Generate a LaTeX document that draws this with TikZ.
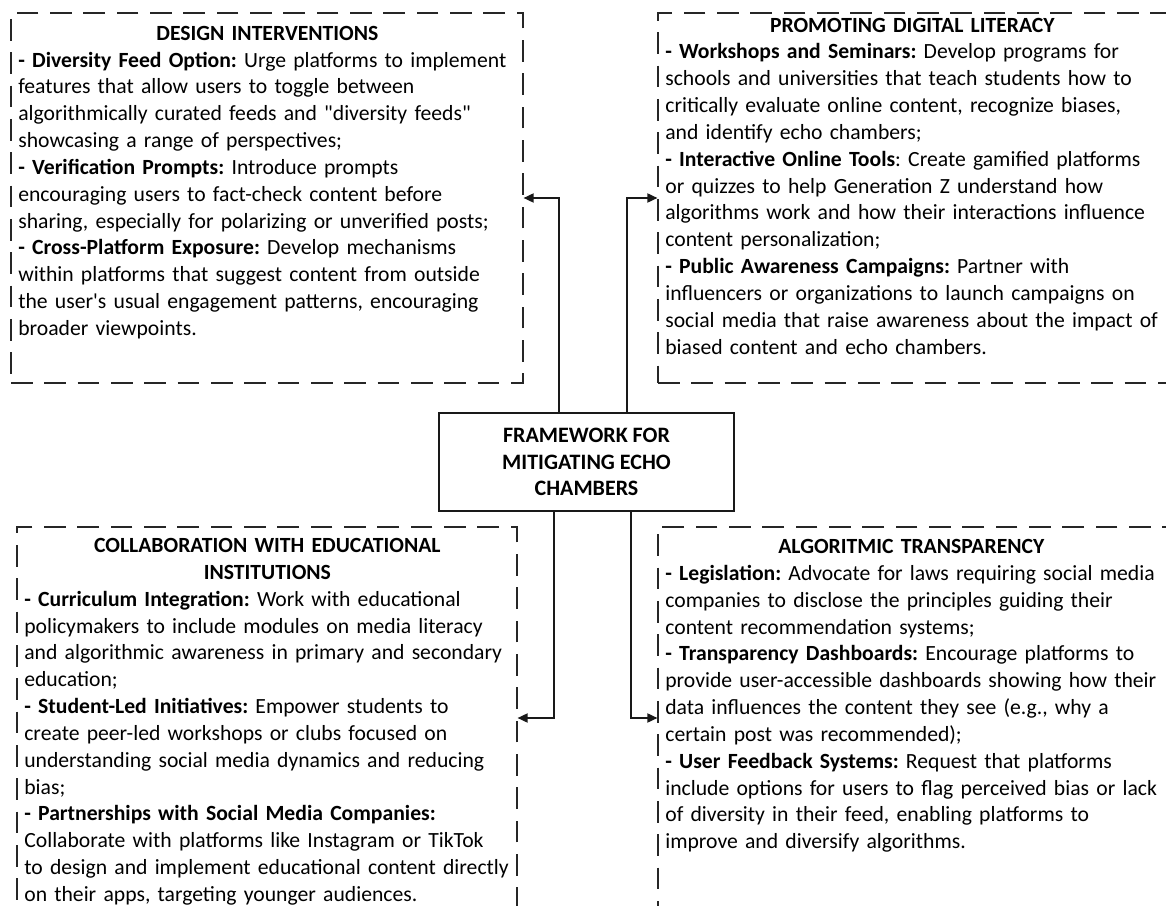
\documentclass[tikz,border=0pt]{standalone}
\usepackage{fontspec}
\setmainfont{Carlito}
\usetikzlibrary{arrows.meta}
\frenchspacing
\newcommand\boxtitle[2]{\makebox[#1][c]{\bfseries\strut #2}}
\tikzset{
  dbox/.style={draw=black!85, line width=0.75pt, dash pattern=on 13pt off 7pt, rectangle, inner sep=0pt},
  cbox/.style={draw=black!90, line width=0.8pt, rectangle, inner sep=0pt, align=center,
               font=\fontsize{13.2}{15.9}\selectfont\bfseries},
  txt/.style={anchor=north west, inner sep=0pt, align=left, text=black,
              font=\fontsize{13}{16.1}\selectfont\frenchspacing},
  conn/.style={draw=black!90, line width=0.8pt, -{Triangle[length=6pt,width=5.5pt]}},
}
\begin{document}
\begin{tikzpicture}[x=0.6pt,y=-0.6pt]
\useasboundingbox (0,0) rectangle (1166,906);
\clip (0,0) rectangle (1166,906);

% frames
\node[dbox, minimum width=307.2pt, minimum height=222pt] (tl) at (267,198) {};
\node[dbox, minimum width=313.2pt, minimum height=222pt] (tr) at (919,198) {};
\node[dbox, minimum width=300pt, minimum height=229.2pt] (bl) at (267,718) {};
\node[dbox, minimum width=313.2pt, minimum height=229.2pt] (br) at (919,718) {};

% centre
\node[cbox, minimum width=177pt, minimum height=58.8pt] (c) at (586.5,462)
  {FRAMEWORK FOR\\MITIGATING ECHO\\CHAMBERS};

% texts
\node[txt, text width=340pt] (tltext) at (18,21.2) {%
\boxtitle{298.8pt}{DESIGN INTERVENTIONS}\\
\textbf{- Diversity Feed Option:} Urge platforms to implement\\
features that allow users to toggle between\\
algorithmically curated feeds and \textquotedbl diversity feeds\textquotedbl\\
showcasing a range of perspectives;\\
\textbf{- Verification Prompts:} Introduce prompts\\
encouraging users to fact-check content before\\
sharing, especially for polarizing or unverified posts;\\
\textbf{- Cross-Platform Exposure:} Develop mechanisms\\
within platforms that suggest content from outside\\
the user\textquotesingle s usual engagement patterns, encouraging\\
broader viewpoints.};

\node[txt, text width=340pt] (trtext) at (665,12.9) {%
\boxtitle{296.4pt}{PROMOTING DIGITAL LITERACY}\\
\textbf{- Workshops and Seminars:} Develop programs for\\
schools and universities that teach students how to\\
critically evaluate online content, recognize biases,\\
and identify echo chambers;\\
\textbf{- Interactive Online Tools}: Create gamified platforms\\
or quizzes to help Generation Z understand how\\
algorithms work and how their interactions influence\\
content personalization;\\
\textbf{- Public Awareness Campaigns:} Partner with\\
influencers or organizations to launch campaigns on\\
social media that raise awareness about the impact of\\
biased content and echo chambers.};

\node[txt, text width=340pt] (bltext) at (24,533.5) {%
\boxtitle{291.6pt}{COLLABORATION WITH EDUCATIONAL}\\
\boxtitle{291.6pt}{INSTITUTIONS}\\
\textbf{- Curriculum Integration:} Work with educational\\
policymakers to include modules on media literacy\\
and algorithmic awareness in primary and secondary\\
education;\\
\textbf{- Student-Led Initiatives:} Empower students to\\
create peer-led workshops or clubs focused on\\
understanding social media dynamics and reducing\\
bias;\\
\textbf{- Partnerships with Social Media Companies:}\\
Collaborate with platforms like Instagram or TikTok\\
to design and implement educational content directly\\
on their apps, targeting younger audiences.};

\node[txt, text width=340pt] (brtext) at (665,534.5) {%
\boxtitle{295.2pt}{ALGORITMIC TRANSPARENCY}\\
\textbf{- Legislation:} Advocate for laws requiring social media\\
companies to disclose the principles guiding their\\
content recommendation systems;\\
\textbf{- Transparency Dashboards:} Encourage platforms to\\
provide user-accessible dashboards showing how their\\
data influences the content they see (e.g., why a\\
certain post was recommended);\\
\textbf{- User Feedback Systems:} Request that platforms\\
include options for users to flag perceived bias or lack\\
of diversity in their feed, enabling platforms to\\
improve and diversify algorithms.};

% connectors
\draw[conn] ([xshift=-16.5pt]c.north) |- (tl.east);
\draw[conn] ([xshift=24.3pt]c.north) |- (tr.west);
\draw[conn] ([xshift=-19.5pt]c.south) |- (bl.east);
\draw[conn] ([xshift=26.7pt]c.south) |- (br.west);
\end{tikzpicture}
\end{document}
